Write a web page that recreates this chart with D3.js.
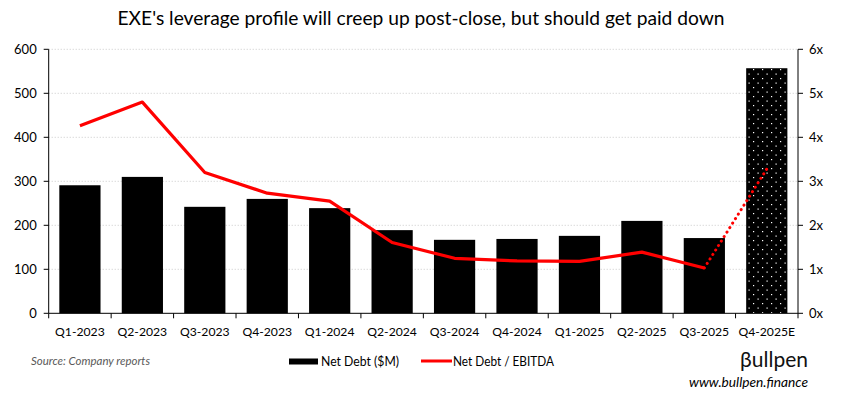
<!DOCTYPE html>
<html><head><meta charset="utf-8">
<script src="https://cdn.jsdelivr.net/npm/d3@7/dist/d3.min.js"></script>
<style>body{margin:0;background:#fff}svg{display:block}text{font-family:Lato,"Open Sans",sans-serif}</style>
</head><body><svg id="c" width="842" height="403"></svg>
<script>
const categories = ["Q1-2023","Q2-2023","Q3-2023","Q4-2023","Q1-2024","Q2-2024","Q3-2024","Q4-2024","Q1-2025","Q2-2025","Q3-2025","Q4-2025E"];
const netDebt = [291, 310, 242, 260, 239, 189, 167, 169, 176, 210, 171, 557];
const leverage = [4.26, 4.80, 3.20, 2.73, 2.55, 1.61, 1.25, 1.19, 1.18, 1.39, 1.03, 3.28];
const estimated = [false,false,false,false,false,false,false,false,false,false,false,true];
const leftTicks = [0,100,200,300,400,500,600];
const rightTicks = [0,1,2,3,4,5,6];
const title = "EXE's leverage profile will creep up post-close, but should get paid down";

const svg = d3.select("#c");
const L = 48.7, R = 798, T = 49.3, B = 313.3;

const x = d3.scaleBand().domain(categories).range([L, R]).paddingInner(0.34).paddingOuter(0.17);
const y = d3.scaleLinear().domain([0, 600]).range([B, T]);
const y2 = d3.scaleLinear().domain([0, 6]).range([B, T]);

const defs = svg.append("defs");
const pat = defs.append("pattern").attr("id","dots").attr("patternUnits","userSpaceOnUse")
  .attr("width",9).attr("height",9);
pat.append("rect").attr("width",9).attr("height",9).attr("fill","#000");
pat.append("rect").attr("x",1.5).attr("y",1.5).attr("width",1.2).attr("height",1.2).attr("fill","#fff");
pat.append("rect").attr("x",6).attr("y",6).attr("width",1.2).attr("height",1.2).attr("fill","#fff");

svg.append("text").attr("x",421).attr("y",25).attr("text-anchor","middle")
  .attr("font-size",20).attr("fill","#000")
  .attr("textLength",607).attr("lengthAdjust","spacingAndGlyphs").text(title);

// gridlines
svg.append("g").selectAll("line").data(leftTicks.filter(d=>d>0)).join("line")
  .attr("x1",L).attr("x2",R).attr("y1",d=>y(d)).attr("y2",d=>y(d))
  .attr("stroke","#c8c8c8").attr("stroke-width",1).attr("stroke-dasharray","1,2");

// bars
svg.append("g").selectAll("rect").data(categories).join("rect")
  .attr("x",d=>x(d)).attr("width",x.bandwidth())
  .attr("y",(d,i)=>y(netDebt[i])).attr("height",(d,i)=>B - y(netDebt[i]))
  .attr("fill",(d,i)=>estimated[i] ? "url(#dots)" : "#000");

// line
const cx = d => x(d) + x.bandwidth()/2;
const solidIdx = categories.map((c,i)=>i).filter(i=>!estimated[i]);
const line = d3.line().x(i=>cx(categories[i])).y(i=>y2(leverage[i]));
svg.append("path").attr("d", line(solidIdx)).attr("fill","none")
  .attr("stroke","#ff0000").attr("stroke-width",3.2).attr("stroke-linejoin","round");
const lastSolid = solidIdx[solidIdx.length-1];
const estIdx = [lastSolid].concat(categories.map((c,i)=>i).filter(i=>estimated[i]));
svg.append("path").attr("d", line(estIdx)).attr("fill","none")
  .attr("stroke","#ff0000").attr("stroke-width",3).attr("stroke-linecap","round")
  .attr("stroke-dasharray","0.1,5.2");

// axes
const ax = svg.append("g").attr("font-size",13);
ax.append("line").attr("x1",L).attr("x2",L).attr("y1",T).attr("y2",B).attr("stroke","#000");
ax.append("line").attr("x1",R).attr("x2",R).attr("y1",T).attr("y2",B).attr("stroke","#000");
ax.append("line").attr("x1",L).attr("x2",R).attr("y1",B).attr("y2",B).attr("stroke","#000");
leftTicks.forEach(t=>{
  ax.append("line").attr("x1",L-5).attr("x2",L).attr("y1",y(t)).attr("y2",y(t)).attr("stroke","#000");
  ax.append("text").attr("x",L-12).attr("y",y(t)).attr("dy","0.35em").attr("text-anchor","end").attr("fill","#000").text(t);
});
rightTicks.forEach(t=>{
  ax.append("line").attr("x1",R).attr("x2",R+5).attr("y1",y2(t)).attr("y2",y2(t)).attr("stroke","#000");
  ax.append("text").attr("x",R+11).attr("y",y2(t)).attr("dy","0.35em").attr("text-anchor","start").attr("fill","#000").text(t+"x");
});
const step = x.step();
d3.range(categories.length+1).forEach(i=>{
  const bx = L + i*step;
  ax.append("line").attr("x1",bx).attr("x2",bx).attr("y1",B).attr("y2",B+5).attr("stroke","#000");
});
categories.forEach(c=>{
  ax.append("text").attr("x",cx(c)).attr("y",B+18).attr("dy","0.35em").attr("text-anchor","middle")
    .attr("font-size",12.2).attr("fill","#000").text(c);
});

// footer
svg.append("text").attr("x",31).attr("y",365).attr("font-size",12).attr("font-style","italic")
  .attr("fill","#595959").attr("textLength",119).attr("lengthAdjust","spacingAndGlyphs").text("Source: Company reports");
const lg = svg.append("g").attr("font-size",13.5);
lg.append("rect").attr("x",289).attr("y",358.5).attr("width",29).attr("height",6).attr("fill","#000");
lg.append("text").attr("x",321).attr("y",361).attr("dy","0.35em")
  .attr("textLength",78).attr("lengthAdjust","spacingAndGlyphs").text("Net Debt ($M)");
lg.append("line").attr("x1",421).attr("x2",452).attr("y1",361).attr("y2",361).attr("stroke","#ff0000").attr("stroke-width",3);
lg.append("text").attr("x",453).attr("y",361).attr("dy","0.35em")
  .attr("textLength",101).attr("lengthAdjust","spacingAndGlyphs").text("Net Debt / EBITDA");
svg.append("text").attr("x",808).attr("y",367).attr("text-anchor","end").attr("font-size",21)
  .attr("fill","#111").text("βullpen");
svg.append("text").attr("x",689).attr("y",387).attr("font-size",14)
  .attr("font-style","italic").attr("fill","#000")
  .attr("textLength",119).attr("lengthAdjust","spacingAndGlyphs").text("www.bullpen.finance");
</script></body></html>
